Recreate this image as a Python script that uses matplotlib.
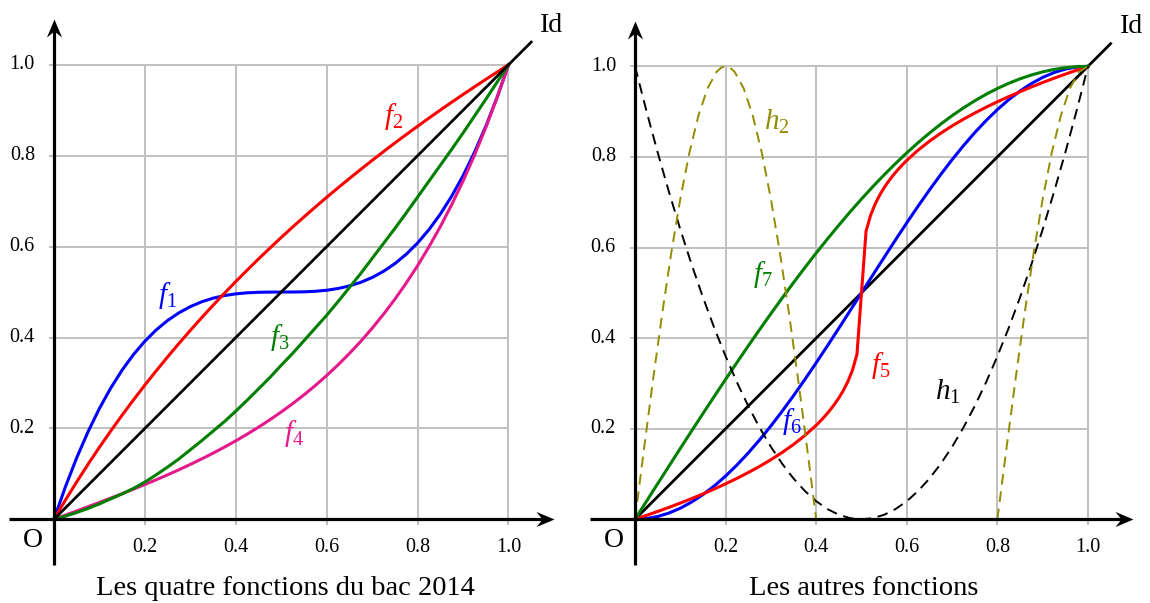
import matplotlib
matplotlib.use('Agg')
import matplotlib.pyplot as plt
from matplotlib.path import Path

plt.rcParams['font.family'] = ['Liberation Serif', 'DejaVu Serif']
plt.rcParams['mathtext.fontset'] = 'custom'
plt.rcParams['mathtext.rm'] = 'Liberation Serif'
plt.rcParams['mathtext.it'] = 'Liberation Serif:italic'

# ---------------- data ----------------
X = [0.0, 0.025, 0.05, 0.075, 0.1, 0.125, 0.15, 0.175, 0.2, 0.225, 0.25, 0.275, 0.3, 0.325,
     0.35, 0.375, 0.4, 0.425, 0.45, 0.475, 0.5, 0.525, 0.55, 0.575, 0.6, 0.625, 0.65, 0.675,
     0.7, 0.725, 0.75, 0.775, 0.8, 0.825, 0.85, 0.875, 0.9, 0.925, 0.95, 0.975, 1.0]

F1_Y = [0, 0.0713, 0.1355, 0.1929, 0.244, 0.2891, 0.3285, 0.3627, 0.392, 0.4168, 0.4375,
        0.4544, 0.468, 0.4786, 0.4865, 0.4922, 0.496, 0.4983, 0.4995, 0.4999, 0.5, 0.5001,
        0.5005, 0.5017, 0.504, 0.5078, 0.5135, 0.5214, 0.532, 0.5456, 0.5625, 0.5832, 0.608,
        0.6373, 0.6715, 0.7109, 0.756, 0.8071, 0.8645, 0.9287, 1.0]
F2_Y = [0, 0.0421, 0.0824, 0.1212, 0.1586, 0.1946, 0.2293, 0.2629, 0.2954, 0.3269, 0.3574,
        0.3870, 0.4157, 0.4437, 0.4709, 0.4974, 0.5231, 0.5483, 0.5728, 0.5967, 0.6201,
        0.6430, 0.6653, 0.6871, 0.7085, 0.7294, 0.7499, 0.7700, 0.7897, 0.8090, 0.8280,
        0.8466, 0.8648, 0.8828, 0.9004, 0.9177, 0.9347, 0.9514, 0.9679, 0.9841, 1.0]
F3_Y = [0, 0.007, 0.015, 0.024, 0.034, 0.045, 0.056, 0.068, 0.082, 0.098, 0.115, 0.133,
        0.153, 0.173, 0.194, 0.215, 0.238, 0.262, 0.287, 0.312, 0.339, 0.365, 0.393, 0.421,
        0.449, 0.479, 0.510, 0.541, 0.574, 0.607, 0.640, 0.674, 0.709, 0.744, 0.779, 0.814,
        0.850, 0.887, 0.924, 0.962, 1.0]
F4_Y = [0, 0.0092, 0.0184, 0.0278, 0.0372, 0.0467, 0.0564, 0.0664, 0.0766, 0.0871, 0.0979,
        0.1091, 0.1208, 0.1329, 0.1455, 0.1588, 0.1727, 0.1873, 0.2027, 0.2190, 0.2362,
        0.2544, 0.2738, 0.2944, 0.3164, 0.3398, 0.3649, 0.3916, 0.4204, 0.4512, 0.4842,
        0.5198, 0.5581, 0.5995, 0.6440, 0.6922, 0.7443, 0.8006, 0.8618, 0.9280, 1.0]
ID_X = [0.0, 1.05]
ID_Y = [0.0, 1.05]

F5_X = [0, 0.025, 0.05, 0.075, 0.1, 0.125, 0.15, 0.175, 0.2, 0.225, 0.25, 0.275, 0.3, 0.325,
        0.35, 0.375, 0.4, 0.41, 0.42, 0.43, 0.44, 0.45, 0.46, 0.47, 0.48, 0.49, 0.5, 0.51,
        0.52, 0.53, 0.54, 0.55, 0.56, 0.57, 0.58, 0.59, 0.6, 0.625, 0.65, 0.675, 0.7, 0.725,
        0.75, 0.775, 0.8, 0.825, 0.85, 0.875, 0.9, 0.925, 0.95, 0.975, 1.0]
F5_Y = [0, 0.0085, 0.0173, 0.0264, 0.0358, 0.0457, 0.0561, 0.0669, 0.0783, 0.0903, 0.1032,
        0.1168, 0.1316, 0.1476, 0.1653, 0.1850, 0.2076, 0.2177, 0.2286, 0.2404, 0.2534,
        0.2679, 0.2846, 0.3043, 0.3290, 0.3643, 0.5, 0.6357, 0.6710, 0.6957, 0.7154, 0.7321,
        0.7466, 0.7596, 0.7714, 0.7823, 0.7924, 0.8150, 0.8347, 0.8524, 0.8684, 0.8832,
        0.8968, 0.9097, 0.9217, 0.9331, 0.9439, 0.9543, 0.9642, 0.9736, 0.9827, 0.9915, 1.0]
F6_Y = [0, 0.0015, 0.0062, 0.0138, 0.0245, 0.0381, 0.0545, 0.0737, 0.0955, 0.1198, 0.1464,
        0.1753, 0.2061, 0.2388, 0.2730, 0.3087, 0.3455, 0.3833, 0.4218, 0.4608, 0.5, 0.5392,
        0.5782, 0.6167, 0.6545, 0.6913, 0.7270, 0.7612, 0.7939, 0.8247, 0.8536, 0.8802,
        0.9045, 0.9263, 0.9455, 0.9619, 0.9755, 0.9862, 0.9938, 0.9985, 1.0]
F7_Y = [0, 0.0393, 0.0785, 0.1175, 0.1564, 0.1951, 0.2334, 0.2714, 0.3090, 0.3461, 0.3827,
        0.4187, 0.4540, 0.4886, 0.5225, 0.5556, 0.5878, 0.6191, 0.6494, 0.6788, 0.7071,
        0.7343, 0.7604, 0.7853, 0.8090, 0.8315, 0.8526, 0.8725, 0.8910, 0.9081, 0.9239,
        0.9382, 0.9511, 0.9625, 0.9724, 0.9808, 0.9877, 0.9931, 0.9969, 0.9992, 1.0]
H1_Y = [1.0, 0.9025, 0.81, 0.7225, 0.64, 0.5625, 0.49, 0.4225, 0.36, 0.3025, 0.25, 0.2025,
        0.16, 0.1225, 0.09, 0.0625, 0.04, 0.0225, 0.01, 0.0025, 0.0, 0.0025, 0.01, 0.0225,
        0.04, 0.0625, 0.09, 0.1225, 0.16, 0.2025, 0.25, 0.3025, 0.36, 0.4225, 0.49, 0.5625,
        0.64, 0.7225, 0.81, 0.9025, 1.0]
H2A_X = [0, 0.02, 0.04, 0.06, 0.08, 0.1, 0.12, 0.14, 0.16, 0.18, 0.19, 0.2, 0.21, 0.22,
         0.24, 0.26, 0.28, 0.3, 0.32, 0.34, 0.36, 0.38, 0.4]
H2A_Y = [0, 0.1564, 0.3090, 0.4540, 0.5878, 0.7071, 0.8090, 0.8910, 0.9511, 0.9877, 0.9969,
         1.0, 0.9969, 0.9877, 0.9511, 0.8910, 0.8090, 0.7071, 0.5878, 0.4540, 0.3090, 0.1564, 0]
H2B_X = [0.8, 0.82, 0.84, 0.86, 0.88, 0.9, 0.92, 0.94, 0.96, 0.98, 1.0]
H2B_Y = [0, 0.1564, 0.3090, 0.4540, 0.5878, 0.7071, 0.8090, 0.8910, 0.9511, 0.9877, 1.0]

TICKS = [0.2, 0.4, 0.6, 0.8, 1.0]
TICK_LABELS = ['0.2', '0.4', '0.6', '0.8', '1.0']
CAPTIONS = ['Les quatre fonctions du bac 2014', 'Les autres fonctions']

# ---------------- style ----------------
BLUE, RED, GREEN, MAGENTA, OLIVE = '#0000ff', '#ff0000', '#007f00', '#e6198c', '#928c00'
GRID = '#c0c0c0'
LW = 2.2

W, H = 1150, 603
fig = plt.figure(figsize=(W / 100, H / 100), dpi=100)

XL = (-0.11, 1.15)
YL = (-0.14, 1.14)


def make_axes(ox, oy, s):
    left = (ox + XL[0] * s) / W
    width = (XL[1] - XL[0]) * s / W
    bottom = (H - (oy - YL[0] * s)) / H
    height = (YL[1] - YL[0]) * s / H
    ax = fig.add_axes([left, bottom, width, height])
    ax.set_xlim(*XL)
    ax.set_ylim(*YL)
    ax.axis('off')
    return ax


ARROW_R = Path([(0, 0), (-1, 0.42), (-0.66, 0), (-1, -0.42), (0, 0)],
               [Path.MOVETO, Path.LINETO, Path.LINETO, Path.LINETO, Path.CLOSEPOLY])
ARROW_U = Path([(0, 0), (0.42, -1), (0, -0.66), (-0.42, -1), (0, 0)],
               [Path.MOVETO, Path.LINETO, Path.LINETO, Path.LINETO, Path.CLOSEPOLY])


def frame(ax, caption, cap_x):
    ax.vlines(TICKS, -0.012, 1.0, colors=GRID, lw=1.4, zorder=1)
    ax.hlines(TICKS, -0.012, 1.0, colors=GRID, lw=1.4, zorder=1)
    ax.plot([-0.1, 1.08], [0, 0], color='k', lw=2.3, solid_capstyle='butt', zorder=10)
    ax.plot([0, 0], [-0.1, 1.08], color='k', lw=2.3, solid_capstyle='butt', zorder=10)
    ax.plot([1.1], [0], marker=ARROW_R, ms=26, color='k', mew=0, zorder=11)
    ax.plot([0], [1.1], marker=ARROW_U, ms=26, color='k', mew=0, zorder=11)
    for t, lab in zip(TICKS, TICK_LABELS):
        ax.text(t, -0.062, lab, ha='center', va='center', fontsize=14.5)
        ax.text(-0.042, t, lab, ha='right', va='center', fontsize=14.5)
    ax.text(-0.046, -0.047, 'O', ha='center', va='center', fontsize=20)
    ax.text(1.095, 1.087, 'Id', ha='center', va='center', fontsize=20)
    ax.text(cap_x, -0.152, caption, ha='center', va='center', fontsize=20.5)


lab = dict(ha='center', va='center', fontsize=21)

# ---------------- left panel ----------------
ax1 = make_axes(54, 519.3, 454.5)
frame(ax1, CAPTIONS[0], 0.51)
ax1.plot(X, F1_Y, color=BLUE, lw=LW, zorder=3)
ax1.plot(X, F2_Y, color=RED, lw=LW, zorder=3)
ax1.plot(X, F4_Y, color=MAGENTA, lw=LW, zorder=4)
ax1.plot(X, F3_Y, color=GREEN, lw=LW, zorder=5)
ax1.plot(ID_X, ID_Y, color='k', lw=2.0, zorder=6)
ax1.text(0.249, 0.492, r'$f_1$', color=BLUE, **lab)
ax1.text(0.746, 0.886, r'$f_2$', color=RED, **lab)
ax1.text(0.497, 0.400, r'$f_3$', color=GREEN, **lab)
ax1.text(0.528, 0.188, r'$f_4$', color=MAGENTA, **lab)

# ---------------- right panel ----------------
ax2 = make_axes(635, 519.3, 453)
frame(ax2, CAPTIONS[1], 0.505)
ax2.plot(ID_X, ID_Y, color='k', lw=2.0, zorder=3)
ax2.plot(X, F6_Y, color=BLUE, lw=LW, zorder=4)
ax2.plot(F5_X, F5_Y, color=RED, lw=LW, zorder=5)
ax2.plot(X, F7_Y, color=GREEN, lw=LW, zorder=5)
ax2.plot(X, H1_Y, color='k', lw=1.4, dashes=[5.5, 3.5], zorder=6)
ax2.plot(H2A_X, H2A_Y, color=OLIVE, lw=1.4, dashes=[5.5, 3.5], zorder=6)
ax2.plot(H2B_X, H2B_Y, color=OLIVE, lw=1.4, dashes=[5.5, 3.5], zorder=6)
ax2.text(0.313, 0.877, r'$h_2$', color=OLIVE, **lab)
ax2.text(0.283, 0.540, r'$f_7$', color=GREEN, **lab)
ax2.text(0.347, 0.215, r'$f_6$', color=BLUE, **lab)
ax2.text(0.543, 0.339, r'$f_5$', color=RED, **lab)
ax2.text(0.691, 0.281, r'$h_1$', color='k', **lab)

fig.savefig('out.png', dpi=100)
